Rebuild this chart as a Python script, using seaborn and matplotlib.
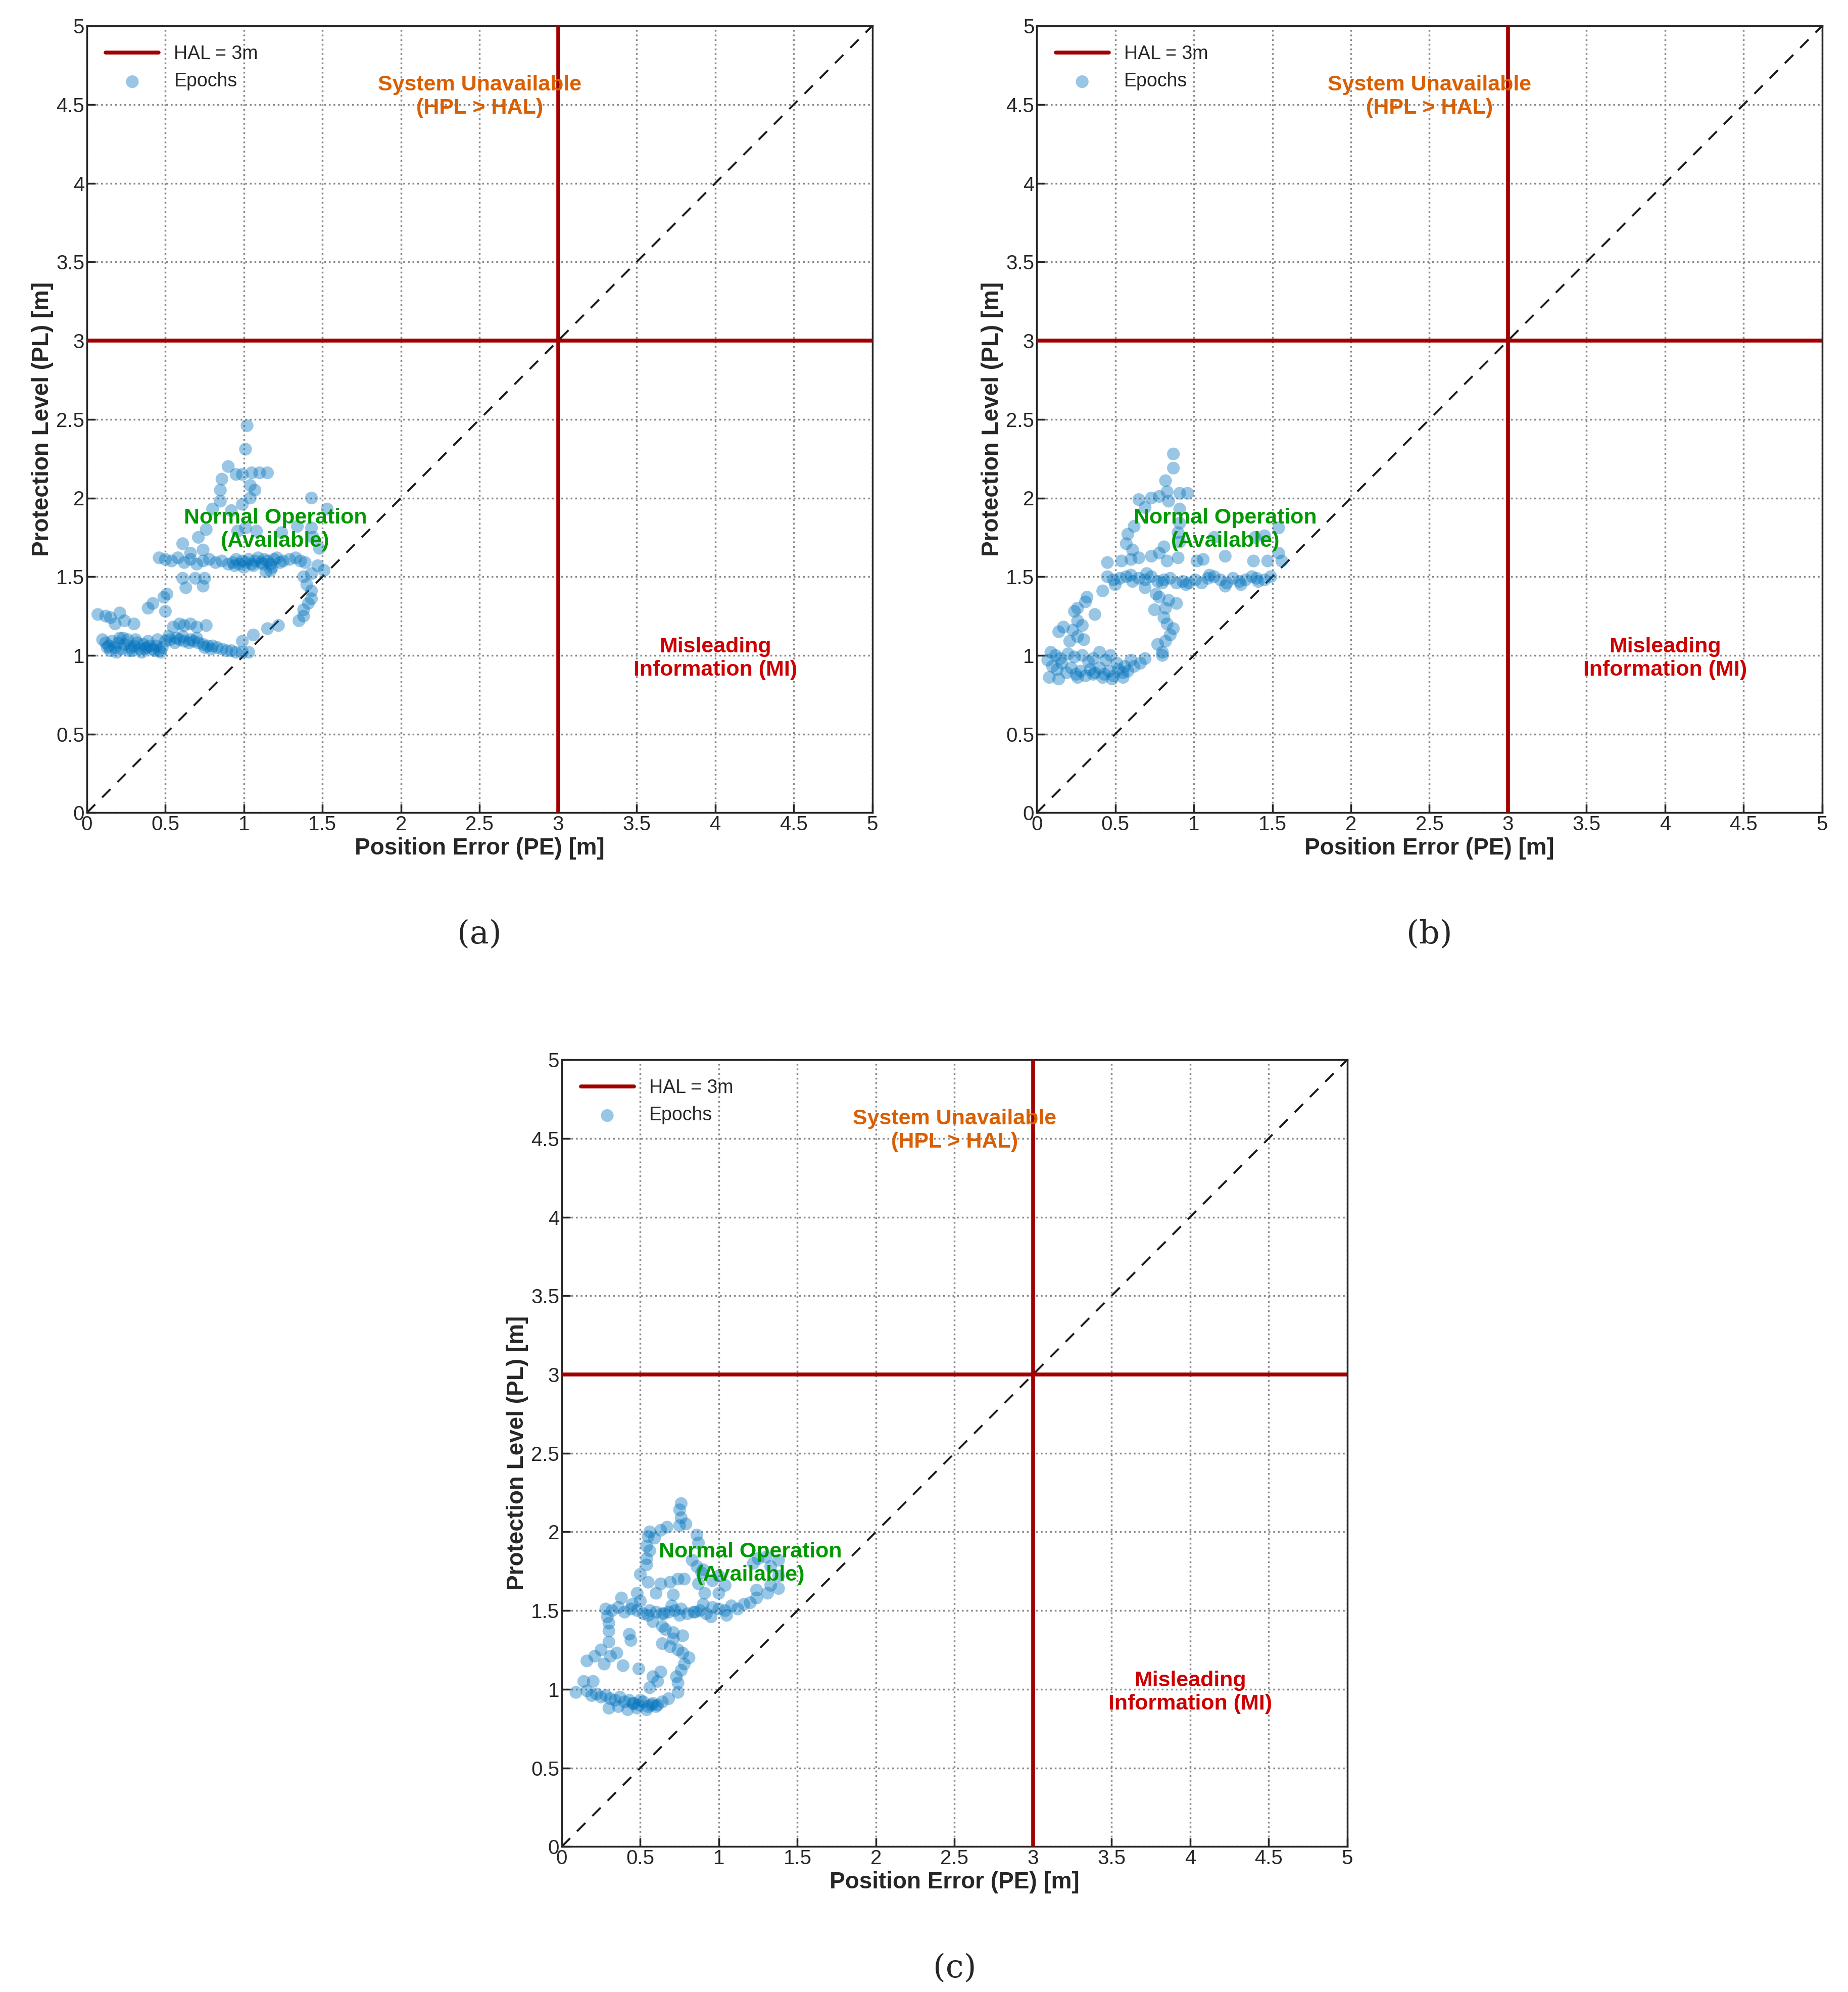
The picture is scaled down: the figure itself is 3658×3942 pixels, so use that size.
import numpy as np
import pandas as pd
import matplotlib.pyplot as plt
import seaborn as sns

# ---- data (PE, PL in metres) ----
# panel (a)
pe_a = [0.10, 0.12, 0.14, 0.16, 0.18, 0.20, 0.22, 0.24, 0.26, 0.28, 0.30, 0.32, 0.34, 0.36, 0.38, 0.40, 0.42, 0.44, 0.46, 0.48,
        0.15, 0.19, 0.23, 0.27, 0.31, 0.35, 0.39, 0.43, 0.47, 0.13, 0.21, 0.29, 0.37, 0.45,
        0.50, 0.53, 0.56, 0.59, 0.62, 0.65, 0.68, 0.71, 0.74, 0.77, 0.80, 0.83, 0.86, 0.89, 0.92, 0.95, 0.99,
        0.52, 0.57, 0.61, 0.66, 0.70, 0.75, 0.79,
        0.07, 0.12, 0.15, 0.18, 0.21, 0.24, 0.30, 0.39, 0.42, 0.49, 0.51, 0.50,
        0.55, 0.59, 0.62, 0.66, 0.70, 0.76,
        0.46, 0.50, 0.54, 0.58, 0.62, 0.66, 0.70, 0.74, 0.78, 0.82, 0.86, 0.90, 0.93, 0.95, 0.97, 0.99, 1.01, 1.03,
        1.05, 1.07, 1.09, 1.11, 1.13, 1.15, 1.17, 1.19, 1.21, 1.23, 1.25, 1.29, 1.33, 1.36, 1.39, 0.94, 1.00, 1.06, 1.12, 1.18,
        0.61, 0.71, 0.76, 0.80, 0.85, 0.85, 0.86, 0.90, 0.95, 0.99, 1.05, 1.10, 1.15, 1.04, 1.07, 1.04, 0.99, 1.01, 1.02,
        0.92, 0.96, 1.01, 1.08, 1.24, 1.34, 1.43, 1.43, 1.53, 1.44, 1.48, 0.66, 0.74,
        0.61, 0.63, 0.69, 0.75, 0.74, 1.14, 1.17,
        1.47, 1.51, 1.43, 1.38, 1.40, 1.43, 1.43, 1.41, 1.38, 1.38, 1.35, 1.22, 1.15, 1.06, 0.99, 1.03]
pl_a = [1.10, 1.08, 1.06, 1.09, 1.05, 1.08, 1.04, 1.07, 1.10, 1.05, 1.06, 1.08, 1.04, 1.07, 1.05, 1.06, 1.04, 1.06, 1.03, 1.05,
        1.03, 1.02, 1.11, 1.03, 1.10, 1.02, 1.09, 1.03, 1.02, 1.05, 1.11, 1.03, 1.04, 1.10,
        1.09, 1.10, 1.08, 1.10, 1.09, 1.08, 1.09, 1.08, 1.07, 1.06, 1.06, 1.05, 1.04, 1.03, 1.03, 1.02, 1.02,
        1.12, 1.11, 1.12, 1.10, 1.11, 1.05, 1.04,
        1.26, 1.25, 1.24, 1.20, 1.27, 1.22, 1.20, 1.30, 1.33, 1.37, 1.39, 1.28,
        1.18, 1.20, 1.19, 1.20, 1.18, 1.19,
        1.62, 1.61, 1.60, 1.62, 1.59, 1.61, 1.58, 1.60, 1.61, 1.59, 1.60, 1.58, 1.59, 1.61, 1.58, 1.60, 1.59, 1.61,
        1.58, 1.60, 1.62, 1.59, 1.61, 1.60, 1.58, 1.61, 1.62, 1.59, 1.60, 1.61, 1.62, 1.60, 1.59, 1.57, 1.56, 1.57, 1.58, 1.56,
        1.71, 1.75, 1.80, 1.93, 1.98, 2.05, 2.12, 2.20, 2.15, 2.15, 2.16, 2.16, 2.16, 2.08, 2.05, 2.00, 1.96, 2.31, 2.46,
        1.92, 1.79, 1.81, 1.79, 1.78, 1.82, 1.81, 2.00, 1.93, 1.75, 1.68, 1.65, 1.67,
        1.49, 1.43, 1.49, 1.49, 1.44, 1.53, 1.54,
        1.57, 1.54, 1.52, 1.50, 1.45, 1.41, 1.36, 1.33, 1.29, 1.25, 1.22, 1.19, 1.17, 1.13, 1.09, 1.02]

# panel (b)
pe_b = [0.87, 0.87, 0.82, 0.83, 0.91, 0.96, 0.84, 0.78, 0.73, 0.65, 0.69, 0.91, 0.91, 0.90, 0.91, 0.62, 0.58, 0.57, 0.61,
        0.81, 0.78, 0.73, 0.65, 0.60, 0.54, 0.45, 0.83, 0.90, 1.02, 1.06, 1.13, 1.20, 1.39, 1.45, 1.54, 1.38, 1.47, 1.54, 1.56,
        0.45, 0.49, 0.53, 0.57, 0.61, 0.65, 0.69, 0.73, 0.77, 0.81, 0.85, 0.89, 0.93, 0.97, 1.01, 1.05, 1.09, 1.13,
        1.17, 1.21, 1.25, 1.29, 1.33, 1.37, 1.41, 1.45, 1.49, 0.50, 0.60, 0.70, 0.80, 0.95, 1.10, 1.20, 1.30, 1.40,
        0.69, 0.76, 0.78, 0.84, 0.89, 0.82, 0.75, 0.81, 0.83, 0.87, 0.85, 0.82, 0.77, 0.80, 0.80,
        0.42, 0.32, 0.31, 0.26, 0.24, 0.37, 0.26, 0.29, 0.17, 0.14, 0.23, 0.26, 0.30, 0.21,
        0.07, 0.10, 0.13, 0.16, 0.19, 0.22, 0.25, 0.28, 0.31, 0.34, 0.37, 0.40, 0.43, 0.46, 0.49, 0.52, 0.55, 0.58, 0.62, 0.66,
        0.09, 0.12, 0.15, 0.20, 0.24, 0.29, 0.33, 0.36, 0.40, 0.44, 0.47, 0.51, 0.56, 0.60, 0.69,
        0.08, 0.14, 0.26, 0.36, 0.42, 0.48, 0.55]
pl_b = [2.28, 2.19, 2.11, 2.04, 2.03, 2.03, 1.98, 2.01, 2.00, 1.99, 1.94, 1.93, 1.84, 1.78, 1.72, 1.82, 1.77, 1.71, 1.67,
        1.69, 1.65, 1.63, 1.62, 1.61, 1.60, 1.59, 1.60, 1.62, 1.60, 1.61, 1.75, 1.63, 1.75, 1.76, 1.81, 1.60, 1.60, 1.65, 1.60,
        1.50, 1.48, 1.49, 1.50, 1.47, 1.49, 1.48, 1.50, 1.47, 1.48, 1.49, 1.46, 1.47, 1.46, 1.48, 1.46, 1.49, 1.50,
        1.48, 1.46, 1.49, 1.47, 1.48, 1.50, 1.47, 1.48, 1.50, 1.45, 1.51, 1.52, 1.46, 1.45, 1.51, 1.44, 1.45, 1.49,
        1.43, 1.39, 1.37, 1.35, 1.33, 1.30, 1.29, 1.24, 1.20, 1.17, 1.13, 1.09, 1.07, 1.02, 1.00,
        1.41, 1.37, 1.34, 1.30, 1.28, 1.26, 1.22, 1.19, 1.18, 1.15, 1.16, 1.12, 1.10, 1.09,
        0.97, 0.93, 0.91, 0.95, 0.89, 0.92, 0.88, 0.90, 0.87, 0.91, 0.89, 0.92, 0.88, 0.90, 0.87, 0.91, 0.89, 0.90, 0.93, 0.95,
        1.02, 1.00, 0.98, 1.01, 0.99, 1.00, 0.96, 0.98, 1.02, 0.97, 1.00, 0.95, 0.93, 0.97, 0.98,
        0.86, 0.85, 0.86, 0.88, 0.86, 0.85, 0.86]

# panel (c)
pe_c = [0.76, 0.75, 0.76, 0.75, 0.79, 0.67, 0.63, 0.56, 0.55, 0.59, 0.54, 0.56, 0.54, 0.54, 0.50, 0.55, 0.63, 0.69, 0.74, 0.78,
        0.86, 0.87, 0.83, 0.86, 0.90, 0.89, 0.87, 0.91, 0.96, 1.00, 1.22, 1.25, 1.30, 1.38, 1.33, 1.38, 1.33, 1.38, 1.24, 1.31,
        1.24, 1.04, 1.00, 0.71, 0.60, 0.48, 0.38,
        0.28, 0.32, 0.36, 0.40, 0.44, 0.48, 0.52, 0.56, 0.60, 0.64, 0.68, 0.72, 0.76, 0.80, 0.84, 0.88, 0.92, 0.96, 1.00,
        1.04, 1.08, 1.12, 1.16, 1.20, 0.45, 0.55, 0.65, 0.75, 0.85, 0.95, 1.05, 0.50, 0.70, 0.90,
        0.29, 0.30, 0.30, 0.30, 0.43, 0.44, 0.58, 0.64, 0.66, 0.71, 0.77, 0.71, 0.64, 0.69, 0.74, 0.77, 0.81, 0.78, 0.76,
        0.73, 0.74, 0.74,
        0.35, 0.25, 0.21, 0.16, 0.27, 0.31, 0.39, 0.49, 0.63, 0.58, 0.61, 0.56,
        0.14, 0.20, 0.09, 0.16, 0.19, 0.22, 0.25, 0.28, 0.31, 0.34, 0.37, 0.40, 0.43, 0.46, 0.49, 0.52, 0.55, 0.58, 0.61,
        0.64, 0.68, 0.30, 0.36, 0.42, 0.48, 0.54, 0.60, 0.45, 0.50, 0.57]
pl_c = [2.18, 2.14, 2.09, 2.04, 2.05, 2.03, 2.01, 2.00, 1.97, 1.96, 1.91, 1.88, 1.83, 1.79, 1.73, 1.68, 1.67, 1.68, 1.70, 1.70,
        1.98, 1.93, 1.82, 1.78, 1.76, 1.74, 1.67, 1.61, 1.69, 1.72, 1.80, 1.83, 1.84, 1.82, 1.78, 1.72, 1.66, 1.64, 1.63, 1.61,
        1.58, 1.66, 1.61, 1.60, 1.61, 1.61, 1.58,
        1.51, 1.50, 1.52, 1.49, 1.51, 1.50, 1.48, 1.50, 1.49, 1.48, 1.49, 1.50, 1.51, 1.48, 1.49, 1.50, 1.48, 1.52, 1.51,
        1.50, 1.53, 1.51, 1.54, 1.55, 1.54, 1.47, 1.48, 1.47, 1.49, 1.46, 1.47, 1.56, 1.53, 1.54,
        1.46, 1.42, 1.37, 1.30, 1.35, 1.31, 1.43, 1.40, 1.38, 1.36, 1.34, 1.32, 1.29, 1.27, 1.25, 1.23, 1.20, 1.16, 1.12,
        1.08, 1.04, 0.98,
        1.23, 1.25, 1.21, 1.18, 1.16, 1.21, 1.15, 1.13, 1.11, 1.08, 1.05, 1.01,
        1.05, 1.05, 0.98, 0.99, 0.96, 0.97, 0.95, 0.96, 0.94, 0.93, 0.95, 0.92, 0.93, 0.91, 0.90, 0.92, 0.89, 0.91, 0.90,
        0.92, 0.94, 0.88, 0.89, 0.87, 0.88, 0.87, 0.89, 0.91, 0.93, 0.90]

HAL = 3.0
captions = ["(a)", "(b)", "(c)"]
tick_labels = ['0', '0.5', '1', '1.5', '2', '2.5', '3', '3.5', '4', '4.5', '5']

sns.set_theme(style="white")
plt.rcParams['font.family'] = ['Arial', 'Liberation Sans', 'DejaVu Sans']

fig = plt.figure(figsize=(36.58, 39.42), dpi=100)
boxes = [[0.047, 0.592, 0.425, 0.395],
         [0.561, 0.592, 0.425, 0.395],
         [0.304, 0.073, 0.425, 0.395]]
panels = [(pe_a, pl_a), (pe_b, pl_b), (pe_c, pl_c)]

for box, (pe, pl), cap in zip(boxes, panels, captions):
    ax = fig.add_axes(box)
    df = pd.DataFrame({'PE': pe, 'PL': pl})
    ax.axhline(HAL, color='#A20000', lw=5.5, label='HAL = 3m', zorder=3)
    ax.axvline(HAL, color='#A20000', lw=5.5, zorder=3)
    ax.plot([0, 5], [0, 5], 'k--', lw=2.8, dashes=(6, 5), zorder=2)
    sns.scatterplot(data=df, x='PE', y='PL', ax=ax, s=330, color='#0072BD',
                    alpha=0.4, edgecolor='none', label='Epochs', zorder=4)
    ax.set_xlim(0, 5)
    ax.set_ylim(0, 5)
    ax.set_xticks(np.arange(0, 5.01, 0.5))
    ax.set_yticks(np.arange(0, 5.01, 0.5))
    ax.set_xticklabels(tick_labels)
    ax.set_yticklabels(tick_labels)
    ax.grid(True, linestyle=':', color='#888888', lw=2.5)
    ax.tick_params(labelsize=29, direction='in', length=12, width=2.5, left=True, bottom=True)
    for s in ax.spines.values():
        s.set_color('#262626')
        s.set_linewidth(2.5)
    ax.set_xlabel('Position Error (PE) [m]', fontsize=33, fontweight='bold', color='#262626')
    ax.set_ylabel('Protection Level (PL) [m]', fontsize=33, fontweight='bold', color='#262626')
    ax.text(2.5, 4.55, 'System Unavailable\n(HPL > HAL)', color='#D95F02', fontsize=31,
            fontweight='bold', ha='center', va='center', zorder=5)
    ax.text(1.2, 1.8, 'Normal Operation\n(Available)', color='#009900', fontsize=31,
            fontweight='bold', ha='center', va='center', zorder=5)
    ax.text(4.0, 0.98, 'Misleading\nInformation (MI)', color='#CC0000', fontsize=31,
            fontweight='bold', ha='center', va='center', zorder=5)
    ax.legend(loc='upper left', fontsize=27, frameon=False, handlelength=2.8,
              borderaxespad=0.6)
    ax.text(0.5, -0.155, cap, transform=ax.transAxes, ha='center', va='center',
            fontsize=46, family='DejaVu Serif')

fig.savefig('out.png', dpi=100)
